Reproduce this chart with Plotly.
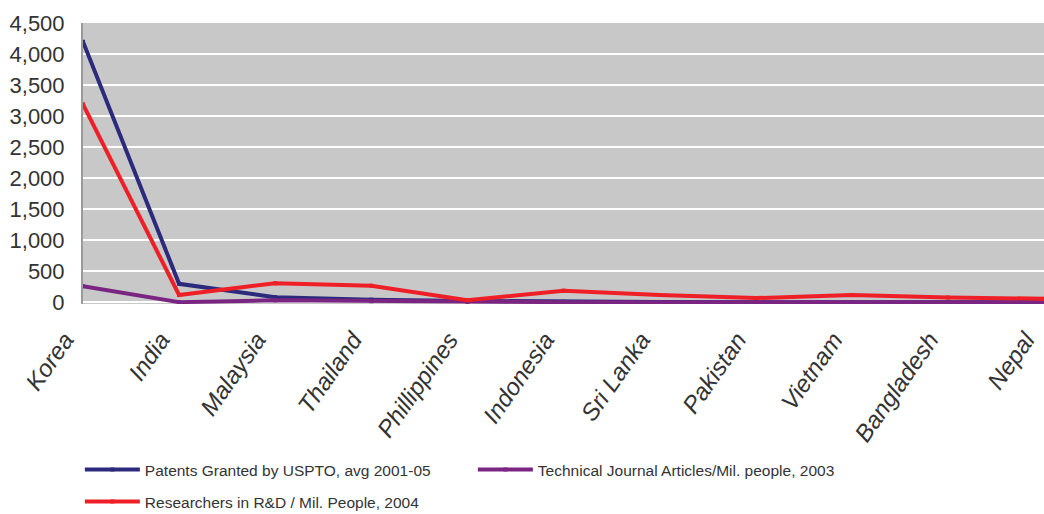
import plotly.graph_objects as go

# Science & technology indicators by country
countries = ["Korea", "India", "Malaysia", "Thailand", "Phillippines", "Indonesia",
             "Sri Lanka", "Pakistan", "Vietnam", "Bangladesh", "Nepal"]
patents = [4200, 300, 85, 45, 25, 10, 8, 5, 4, 3, 2]
journal_articles = [260, 5, 35, 20, 5, 5, 5, 3, 3, 2, 2]
researchers = [3190, 120, 310, 270, 35, 190, 120, 70, 120, 80, 60]

y_ticks = [0, 500, 1000, 1500, 2000, 2500, 3000, 3500, 4000, 4500]

# (label, values, colour, legend id)
series = [
    ("Patents Granted by USPTO, avg 2001-05", patents, "#2b2a7c", "legend"),
    ("Technical Journal Articles/Mil. people, 2003", journal_articles, "#7a2582", "legend"),
    ("Researchers in R&D / Mil. People, 2004", researchers, "#ee1f26", "legend2"),
]

fig = go.Figure()
for name, values, color, leg in series:
    fig.add_trace(go.Scatter(
        x=countries, y=values, name=name, mode="lines+markers",
        line=dict(color=color, width=4),
        marker=dict(color=color, size=4, symbol="square"),
        legend=leg,
    ))

legend_font = dict(family="Liberation Sans Narrow, Arial Narrow, Liberation Sans, sans-serif",
                   size=15.5, color="#333333")
legend_common = dict(
    orientation="h",
    xref="container",
    yref="container",
    x=0.0765,
    xanchor="left",
    yanchor="middle",
    font=legend_font,
    itemwidth=55,
    entrywidth=323,
    bgcolor="rgba(0,0,0,0)",
)

fig.update_layout(
    width=1044, height=514,
    margin=dict(l=83, r=0, t=23, b=210),
    paper_bgcolor="white",
    plot_bgcolor="#c8c8c8",
    showlegend=True,
    legend=dict(y=0.0856, **legend_common),
    legend2=dict(y=0.0233, **legend_common),
    xaxis=dict(
        type="category",
        range=[0, 10],
        automargin=False,
        showgrid=False,
        tickangle=-55,
        tickfont=dict(family="Liberation Sans, Arial, sans-serif", size=24, color="#333333",
                      style="italic"),
        ticks="",
        showline=False,
        ticklabelstandoff=16,
        ticklabelshift=-18,
    ),
    yaxis=dict(
        range=[-25, 4500],
        automargin=False,
        tickvals=y_ticks,
        tickformat=",d",
        showgrid=True,
        gridcolor="white",
        gridwidth=2,
        zeroline=False,
        tickfont=dict(family="Liberation Sans, Arial, sans-serif", size=22, color="#333333"),
        showline=True,
        linecolor="#9a9a9a",
        linewidth=2,
        mirror=True,
        ticks="",
        ticklabelstandoff=12,
    ),
)

fig.write_html("out.html")
